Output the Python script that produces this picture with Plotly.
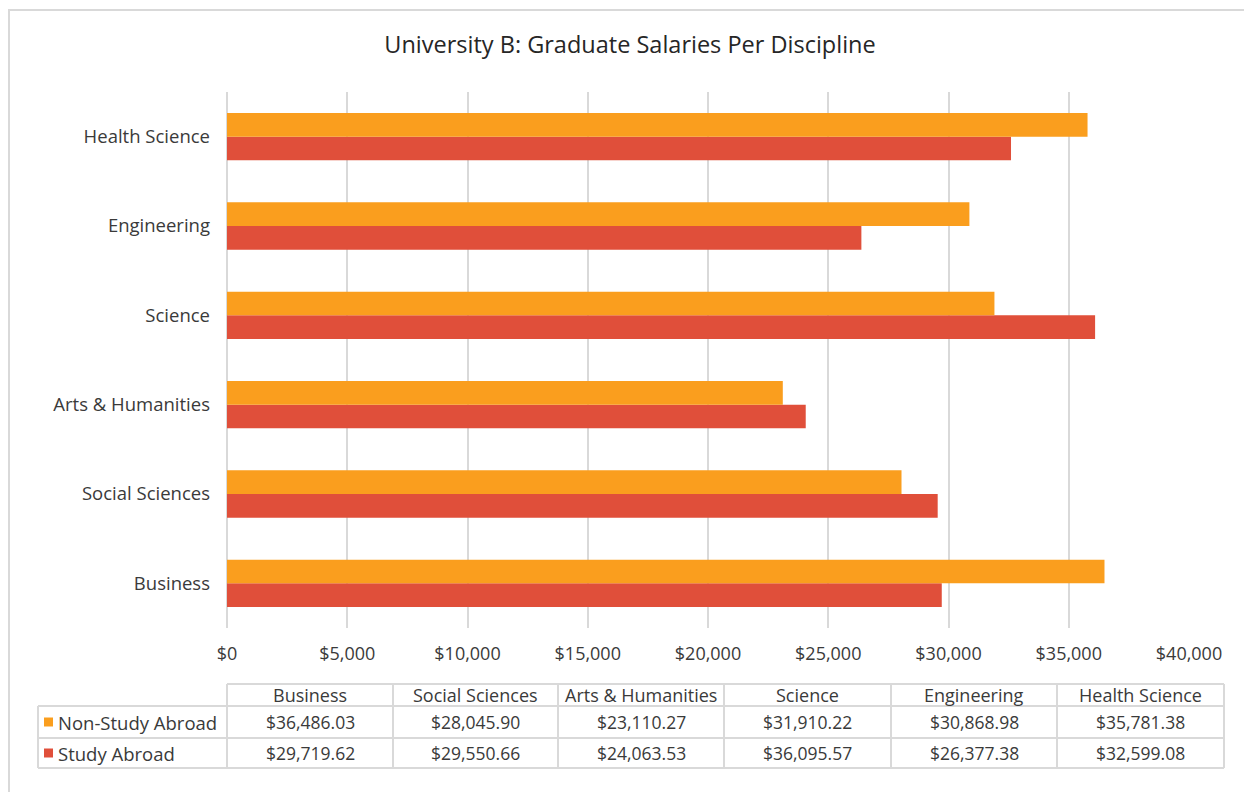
import plotly.graph_objects as go

categories = ["Business", "Social Sciences", "Arts & Humanities", "Science", "Engineering", "Health Science"]
non_study_abroad = [36486.03, 28045.90, 23110.27, 31910.22, 30868.98, 35781.38]
study_abroad = [29719.62, 29550.66, 24063.53, 36095.57, 26377.38, 32599.08]
series_names = ["Non-Study Abroad", "Study Abroad"]
x_tick_vals = [0, 5000, 10000, 15000, 20000, 25000, 30000, 35000, 40000]
x_tick_text = ["$0", "$5,000", "$10,000", "$15,000", "$20,000", "$25,000", "$30,000", "$35,000", "$40,000"]

ORANGE = "#FA9E1E"
RED = "#E04F3A"
GRID = "#D9D9D9"
TEXT = "#3A3A3A"
FONT = "Open Sans"

OFF = 8  # page body margin
W, H = 1252 - OFF, 792 - OFF
L, R, T, B = 227 - OFF, 63, 92 - OFF, 164
PW, PH = W - L - R, H - T - B


def px(x):
    return (x - OFF - L) / PW


def py(y):
    return (H - B - (y - OFF)) / PH


fig = go.Figure()
fig.add_trace(go.Bar(y=categories, x=study_abroad, name=series_names[1], orientation="h",
                     marker=dict(color=RED, line=dict(width=0))))
fig.add_trace(go.Bar(y=categories, x=non_study_abroad, name=series_names[0], orientation="h",
                     marker=dict(color=ORANGE, line=dict(width=0))))

shapes = []
annotations = []

# outer chart border
shapes.append(dict(type="rect", xref="paper", yref="paper", x0=px(9), x1=px(1250), y0=py(10), y1=py(800),
                   line=dict(color=GRID, width=2), layer="below"))

# data table
col_edges = [227, 393, 558, 724, 891, 1057, 1224]
row_edges = [684, 706, 738, 768]
left_edge = 38
line_style = dict(color=GRID, width=2)
shapes.append(dict(type="line", xref="paper", yref="paper", x0=px(col_edges[0]), x1=px(col_edges[-1]),
                   y0=py(row_edges[0]), y1=py(row_edges[0]), line=line_style))
for ry in row_edges[1:]:
    shapes.append(dict(type="line", xref="paper", yref="paper", x0=px(left_edge), x1=px(col_edges[-1]),
                       y0=py(ry), y1=py(ry), line=line_style))
shapes.append(dict(type="line", xref="paper", yref="paper", x0=px(left_edge), x1=px(left_edge),
                   y0=py(row_edges[1]), y1=py(row_edges[-1]), line=line_style))
for cx in col_edges:
    shapes.append(dict(type="line", xref="paper", yref="paper", x0=px(cx), x1=px(cx),
                       y0=py(row_edges[0]), y1=py(row_edges[-1]), line=line_style))

HDR_SIZE = 18
VAL_SIZE = 17.5
row_centers = [(row_edges[i] + row_edges[i + 1]) / 2 for i in range(3)]
for i, cat in enumerate(categories):
    cxm = (col_edges[i] + col_edges[i + 1]) / 2
    annotations.append(dict(text=cat, x=px(cxm), y=py(row_centers[0]), xref="paper", yref="paper",
                            showarrow=False, xanchor="center", yanchor="middle",
                            font=dict(family=FONT, size=HDR_SIZE, color=TEXT)))
    annotations.append(dict(text=f"${non_study_abroad[i]:,.2f}", x=px(cxm), y=py(row_centers[1]),
                            xref="paper", yref="paper", showarrow=False, xanchor="center", yanchor="middle",
                            font=dict(family=FONT, size=VAL_SIZE, color=TEXT)))
    annotations.append(dict(text=f"${study_abroad[i]:,.2f}", x=px(cxm), y=py(row_centers[2]),
                            xref="paper", yref="paper", showarrow=False, xanchor="center", yanchor="middle",
                            font=dict(family=FONT, size=VAL_SIZE, color=TEXT)))

for name, color, rc in [(series_names[0], ORANGE, row_centers[1]), (series_names[1], RED, row_centers[2])]:
    shapes.append(dict(type="rect", xref="paper", yref="paper", x0=px(44), x1=px(53),
                       y0=py(rc - 4.5), y1=py(rc + 4.5), fillcolor=color, line=dict(width=0)))
    annotations.append(dict(text=name, x=px(56), y=py(rc), xref="paper", yref="paper", showarrow=False,
                            xanchor="left", yanchor="middle", font=dict(family=FONT, size=18.5, color=TEXT)))

fig.update_layout(
    width=W, height=H,
    margin=dict(l=L, r=R, t=T, b=B, pad=0),
    paper_bgcolor="white", plot_bgcolor="white",
    barmode="group", bargap=0.47, bargroupgap=0,
    showlegend=False,
    title=dict(text="University B: Graduate Salaries Per Discipline", x=px(630), xanchor="center",
               xref="paper", y=1 - (45 - OFF) / H, yanchor="middle",
               font=dict(family=FONT, size=23.5, color="#262626")),
    font=dict(family=FONT, color=TEXT),
    xaxis=dict(range=[0, 40000], tickvals=x_tick_vals, ticktext=x_tick_text, showgrid=True,
               gridcolor=GRID, gridwidth=2, zeroline=True, zerolinecolor=GRID, zerolinewidth=2,
               showline=False, ticks="", tickfont=dict(family=FONT, size=18, color=TEXT),
               ticklabelstandoff=13, fixedrange=True),
    yaxis=dict(categoryorder="array", categoryarray=categories, showgrid=False, zeroline=False,
               showline=False, ticks="", tickfont=dict(family=FONT, size=18.5, color=TEXT),
               ticklabelstandoff=16, fixedrange=True),
    shapes=shapes,
    annotations=annotations,
)

fig.write_html("out.html")
